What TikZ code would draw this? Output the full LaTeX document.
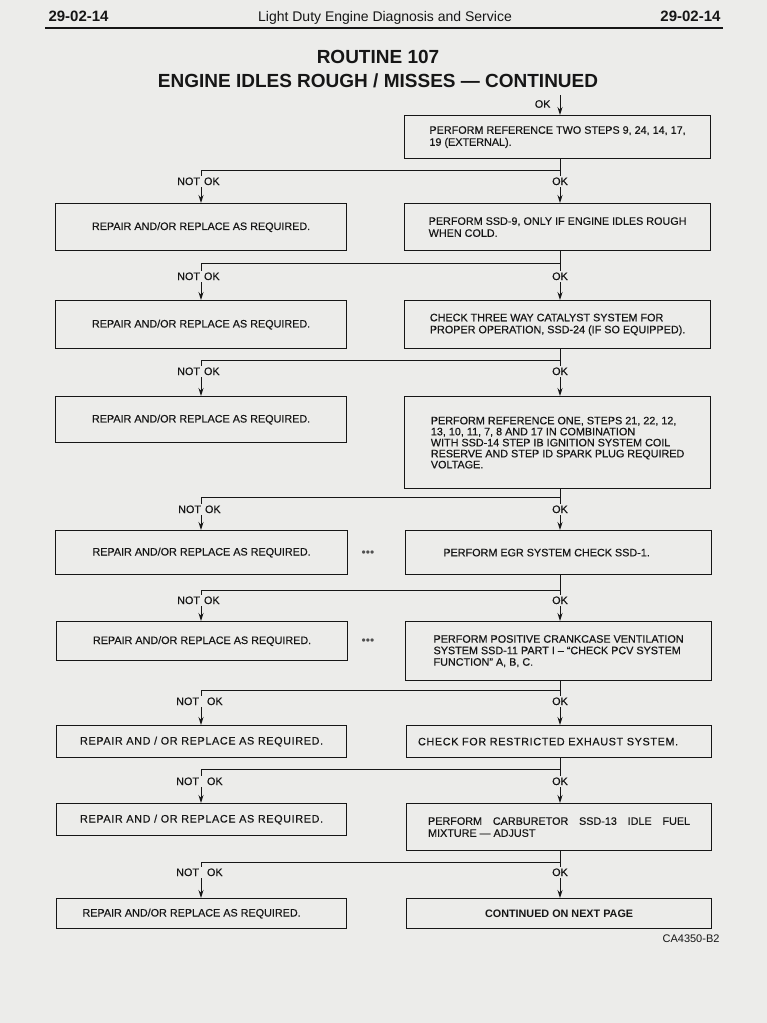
\documentclass[tikz,border=0pt]{standalone}
\usepackage{fontspec}
\setmainfont{Liberation Sans}
\newfontfamily\bodyfam{Liberation Sans}[FakeBold=0.35]
\usetikzlibrary{arrows.meta}
\definecolor{bg}{RGB}{236,236,234}
\definecolor{ink}{RGB}{22,22,22}
\newcommand\bodyfont{\bodyfam\fontsize{10.8}{12}\selectfont}
\begin{document}
\begin{tikzpicture}[x=1pt,y=-1pt,
  flowbox/.style={draw=ink,line width=1.2pt,inner sep=0pt,text=ink,font=\bodyfont,align=left,anchor=north west},
  leftbox/.style={flowbox,align=center},
  conn/.style={draw=ink,line width=0.9pt},
  arr/.style={conn,-{Stealth[length=8pt,width=5pt]}},
  lbl/.style={text=ink,font=\bodyfont,fill=bg,inner xsep=1pt,inner ysep=1.5pt},
  dotsl/.style={text=ink!75,font=\fontsize{12}{12}\selectfont},
  hdrnum/.style={text=ink,font=\fontsize{15}{17}\selectfont\bfseries},
  titlef/.style={text=ink,font=\fontsize{19}{22}\selectfont\bfseries}]
\useasboundingbox[fill=bg] (0,0) rectangle (767,1023);

% header
\node[hdrnum,anchor=west] (pgl) at (45,16) {29-02-14};
\node[text=ink,font=\fontsize{14}{16}\selectfont,anchor=base] (hdr) at (385,21) {Light Duty Engine Diagnosis and Service};
\node[hdrnum,anchor=east] (pgr) at (724,16) {29-02-14};
\coordinate (rulel) at (45,28);
\coordinate (ruler) at (723,28);
\draw[ink,line width=1.6pt] (rulel) -- (ruler);

% title
\node[titlef] (t1) at (378,57) {ROUTINE 107};
\node[titlef] (t2) at (378,81) {ENGINE IDLES ROUGH / MISSES — CONTINUED};

% right column
\node[flowbox,minimum width=306pt,minimum height=43pt] (r1) at (404,115) {PERFORM REFERENCE TWO STEPS 9, 24, 14, 17,\\19 (EXTERNAL).};
\node[flowbox,minimum width=306pt,minimum height=47pt] (r2) at (404,203) {PERFORM SSD-9, ONLY IF ENGINE IDLES ROUGH\\WHEN COLD.};
\node[flowbox,minimum width=306pt,minimum height=48pt] (r3) at (404,300) {CHECK THREE WAY CATALYST SYSTEM FOR\\PROPER OPERATION, SSD-24 (IF SO EQUIPPED).};
\node[flowbox,minimum width=306pt,minimum height=92pt,font=\bodyfam\fontsize{10.8}{11}\selectfont] (r4) at (404,396) {PERFORM REFERENCE ONE, STEPS 21, 22, 12,\\13, 10, 11, 7, 8 AND 17 IN COMBINATION\\WITH SSD-14 STEP IB IGNITION SYSTEM COIL\\RESERVE AND STEP ID SPARK PLUG REQUIRED\\VOLTAGE.};
\node[flowbox,minimum width=306pt,minimum height=44pt] (r5) at (405,530) {PERFORM EGR SYSTEM CHECK SSD-1.\hspace*{24pt}};
\node[flowbox,minimum width=306pt,minimum height=59pt,font=\bodyfam\fontsize{10.8}{11.5}\selectfont] (r6) at (405,621) {PERFORM POSITIVE CRANKCASE VENTILATION\\SYSTEM SSD-11 PART I – “CHECK PCV SYSTEM\\FUNCTION” A, B, C.};
\node[flowbox,minimum width=305pt,minimum height=32pt] (r7) at (406,725) {\addfontfeature{LetterSpace=6}CHECK FOR RESTRICTED EXHAUST SYSTEM.\hspace*{22pt}};
\node[flowbox,minimum width=305pt,minimum height=47pt] (r8) at (406,803) {\makebox[262pt][s]{PERFORM CARBURETOR SSD-13 IDLE FUEL}\\MIXTURE — ADJUST};
\node[flowbox,minimum width=305pt,minimum height=30pt,font=\fontsize{10.8}{12}\selectfont\bfseries] (r9) at (406,898) {CONTINUED ON NEXT PAGE};

% left column
\node[leftbox,minimum width=291pt,minimum height=47pt] (l2) at (55,203) {REPAIR AND/OR REPLACE AS REQUIRED.};
\node[leftbox,minimum width=291pt,minimum height=48pt] (l3) at (55,300) {REPAIR AND/OR REPLACE AS REQUIRED.};
\node[leftbox,minimum width=291pt,minimum height=46pt] (l4) at (55,396) {REPAIR AND/OR REPLACE AS REQUIRED.};
\node[leftbox,minimum width=292pt,minimum height=44pt] (l5) at (55,530) {REPAIR AND/OR REPLACE AS REQUIRED.};
\node[leftbox,minimum width=291pt,minimum height=39pt] (l6) at (56,621) {REPAIR AND/OR REPLACE AS REQUIRED.};
\node[leftbox,minimum width=290pt,minimum height=32pt] (l7) at (56,725) {\addfontfeature{LetterSpace=6}REPAIR AND / OR REPLACE AS REQUIRED.};
\node[leftbox,minimum width=290pt,minimum height=32pt] (l8) at (56,803) {\addfontfeature{LetterSpace=6}REPAIR AND / OR REPLACE AS REQUIRED.};
\node[leftbox,minimum width=290pt,minimum height=30pt] (l9) at (56,898) {REPAIR AND/OR REPLACE AS REQUIRED.\hspace*{20pt}};

% dots
\node[dotsl] (d5) at (368,554) {•••};
\node[dotsl] (d6) at (368,642) {•••};

% top arrow
\coordinate (top) at (560,95);
\draw[arr] (top) -- (top |- r1.north);
\node[text=ink,font=\bodyfont,anchor=east] (ok0) at (554,104) {OK};

% branches
\coordinate (lx) at (201,0);
\foreach \i/\j/\yb/\yl/\xs/\gp in {1/2/170/181/176/4pt, 2/3/263/276/176/4pt, 3/4/360/371/176/4pt, 4/5/497/509/177/4pt, 5/6/590/600/176/4pt, 6/7/690/701/175/8pt, 7/8/769/781/175/8pt, 8/9/862/872/175/8pt}{
  \coordinate (c\i) at (560,\yb);
  \draw[arr] (c\i |- r\i.south) -- (c\i |- r\j.north);
  \draw[arr] (c\i) -| (lx |- l\j.north);
  \node[lbl,anchor=base] (ok\i) at (560,\yl+4) {OK};
  \node[lbl,anchor=base west] (nk\i) at (\xs,\yl+4) {NOT\hspace{\gp}OK};
}

\node[text=ink,font=\fontsize{11}{13}\selectfont,anchor=east] (code) at (723,939) {CA4350-B2};
\end{tikzpicture}
\end{document}
